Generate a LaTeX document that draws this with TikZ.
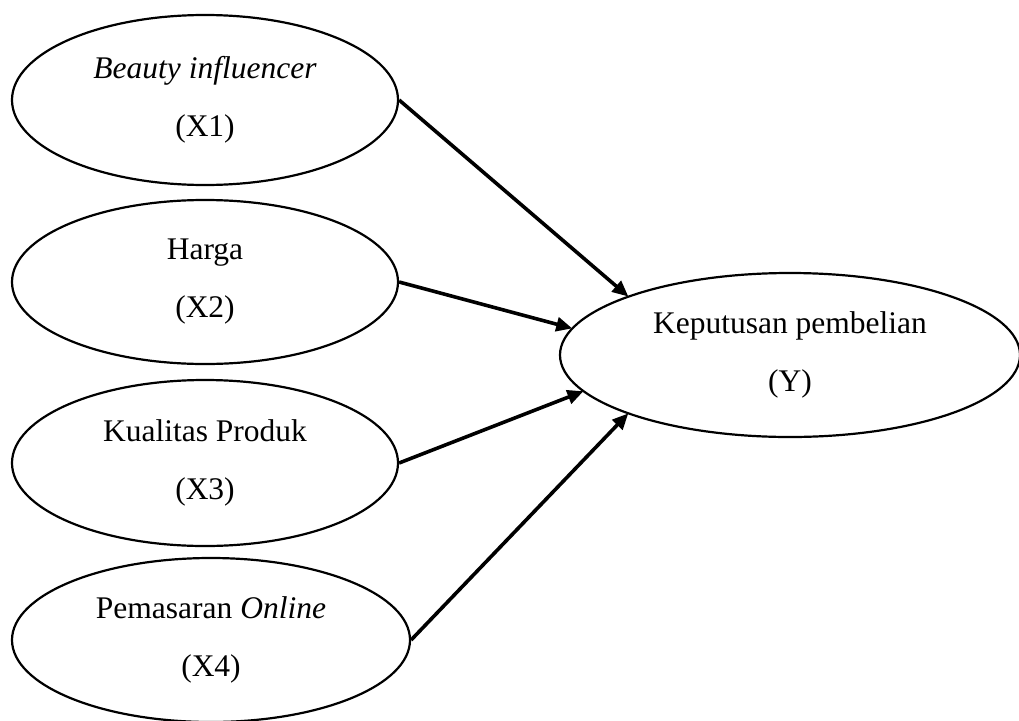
\documentclass[tikz,border=0pt]{standalone}
\usepackage{fontspec}
\setmainfont{Liberation Serif}
\usetikzlibrary{shapes.geometric,arrows.meta}
\tikzset{
  var/.style={ellipse, draw=black, line width=2.2pt, inner sep=0pt, align=center,
    font=\fontsize{31.5}{58}\selectfont},
  link/.style={line width=3.6pt, -{Triangle[length=16pt,width=14pt]}, shorten >=-1pt}
}
\begin{document}
\begin{tikzpicture}[x=1pt,y=-1pt]
\useasboundingbox (0,0) rectangle (1019,720);
\node[var, minimum width=386pt, minimum height=170pt] (x1) at (205,100) {\textit{Beauty influencer}\\(X1)};
\node[var, minimum width=386pt, minimum height=164pt] (x2) at (205,282) {Harga\\(X2)};
\node[var, minimum width=386pt, minimum height=166pt] (x3) at (205,463) {Kualitas Produk\\(X3)};
\node[var, minimum width=398pt, minimum height=164pt] (x4) at (211,640) {Pemasaran \textit{Online}\\(X4)};
\node[var, minimum width=460pt, minimum height=164pt] (y) at (790,355) {Keputusan pembelian\\(Y)};
\draw[link] (x1.east) -- (y.160);
\draw[link] (x2.east) -- (y.173);
\draw[link] (x3.east) -- (y.190);
\draw[link] (x4.east) -- (y.200);
\end{tikzpicture}
\end{document}
